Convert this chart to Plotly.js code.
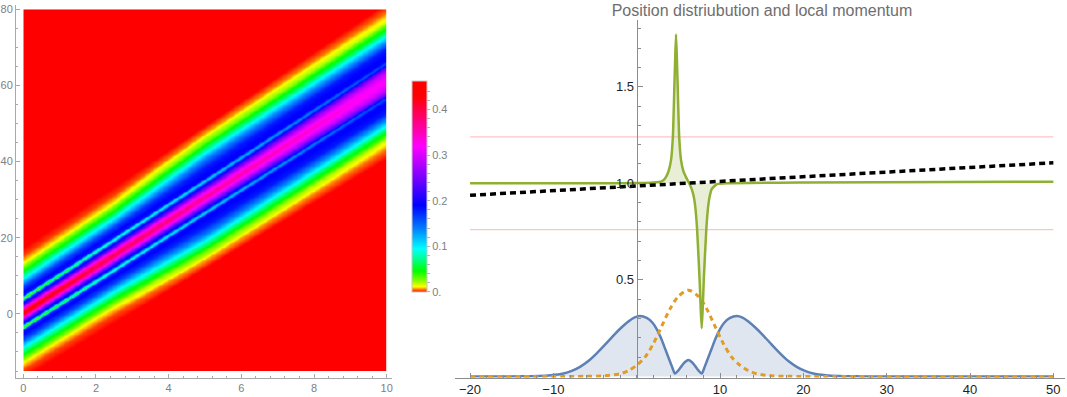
<!DOCTYPE html>
<html><head><meta charset="utf-8">
<script src="https://cdn.plot.ly/plotly-3.0.1.min.js"></script>
<style>html,body{margin:0;padding:0;background:#fff}#chart{width:1067px;height:397px}</style>
</head><body><div id="chart"></div>
<script>
// ---------- Left panel: density of the moving packet ----------
const heatTRange = [0, 10];
const heatYRange = [-15, 80];
const bandTimes   = [0, 2.5, 5, 10];
const bandCenters = [0.4, 15.6, 30.8, 61.3];
const bandScales  = [1.0, 1.05, 1.1, 1.2];
const profileU   = [-17, -15, -13, -11, -9, -7, -5.5, -4.5, -4.05, -3.8, -3.55, -3.1, -2, -1, 0, 1, 2, 3.1, 3.55, 3.8, 4.05, 4.5, 5.5, 7, 9, 11, 13, 15, 17];
const profileT0  = [0, 0.003, 0.012, 0.046, 0.095, 0.16, 0.19, 0.18, 0.06, 0.012, 0.06, 0.16, 0.24, 0.36, 0.45, 0.36, 0.24, 0.16, 0.06, 0.012, 0.06, 0.18, 0.19, 0.16, 0.095, 0.046, 0.012, 0.003, 0];
const profileT25 = [0, 0.003, 0.012, 0.045, 0.1, 0.165, 0.19, 0.18, 0.11, 0.075, 0.11, 0.17, 0.24, 0.34, 0.40, 0.34, 0.24, 0.17, 0.11, 0.075, 0.11, 0.18, 0.19, 0.165, 0.1, 0.045, 0.012, 0.003, 0];
const profileT5  = [0, 0.008, 0.03, 0.08, 0.14, 0.18, 0.19, 0.19, 0.13, 0.10, 0.13, 0.18, 0.25, 0.32, 0.37, 0.32, 0.25, 0.18, 0.13, 0.10, 0.13, 0.19, 0.19, 0.18, 0.14, 0.08, 0.03, 0.008, 0];
const profileT10 = [0, 0.005, 0.015, 0.055, 0.12, 0.18, 0.19, 0.19, 0.17, 0.16, 0.18, 0.23, 0.29, 0.31, 0.32, 0.31, 0.29, 0.23, 0.18, 0.16, 0.17, 0.19, 0.19, 0.18, 0.12, 0.055, 0.015, 0.005, 0];
const colorbarTicks = [0, 0.1, 0.2, 0.3, 0.4];
const colorbarTickText = ['0.', '0.1', '0.2', '0.3', '0.4'];
const heatZMax = 0.463;

// ---------- Right panel ----------
const blueX = [-20, -16.8, -13.8, -11.8, -10.3, -8.8, -7.8, -6.8, -5.8, -4.8, -3.8, -2.8, -1.8, -1.0, -0.3, 0.4, 1.2, 1.9, 2.4, 2.9, 3.4, 3.8, 4.2, 4.6, 5.0, 5.4, 5.8, 6.2,
               6.6, 7.0, 7.4, 7.8, 8.2, 8.6, 9.0, 9.5, 10.0, 10.5, 11.2, 12.0, 12.7, 13.4, 14.2, 15.2, 16.2, 17.2, 18.2, 19.2, 20.2, 21.2, 22.7, 24.2, 26.2, 29.2, 35, 50];
const blueY = [0, 0.0002, 0.001, 0.003, 0.007, 0.016, 0.029, 0.05, 0.08, 0.12, 0.165, 0.212, 0.255, 0.285, 0.305, 0.313, 0.303, 0.278, 0.245, 0.2, 0.145, 0.1, 0.055, 0.015, 0.032, 0.055, 0.075, 0.085,
               0.075, 0.055, 0.032, 0.015, 0.055, 0.1, 0.145, 0.2, 0.245, 0.278, 0.303, 0.313, 0.305, 0.285, 0.255, 0.212, 0.165, 0.12, 0.08, 0.05, 0.029, 0.016, 0.007, 0.003, 0.001, 0.0002, 0, 0];
const orangeX = [-20, -8, -6, -4, -2, -1, 0, 1, 2, 3, 4, 5, 6.2, 7.4, 8.4, 9.4, 10.4, 11.4, 12.4, 13.4, 14.4, 16.4, 18.4, 20.4, 50];
const orangeY = [0, 0, 0.001, 0.003, 0.014, 0.03, 0.058, 0.1, 0.17, 0.26, 0.35, 0.415, 0.447, 0.415, 0.35, 0.26, 0.17, 0.1, 0.058, 0.03, 0.014, 0.003, 0.001, 0, 0];
const greenX = [-20, -5, 0, 2, 3, 3.4, 3.8, 4.12, 4.34, 4.52, 4.62, 4.72, 4.82, 4.92, 5.1, 5.32, 5.62, 6.0, 6.3,
                6.6, 6.85, 7.05, 7.25, 7.55, 7.68, 7.8, 7.92, 8.05, 8.35, 8.55, 8.75, 9.0, 9.6, 11, 20, 50];
const greenY = [1.0, 1.0, 1.001, 1.004, 1.01, 1.025, 1.06, 1.12, 1.24, 1.5, 1.65, 1.77, 1.65, 1.5, 1.24, 1.12, 1.06, 1.025, 1.0,
                0.97, 0.93, 0.87, 0.76, 0.5, 0.35, 0.25, 0.35, 0.5, 0.76, 0.87, 0.93, 0.97, 0.995, 1.0, 1.004, 1.008];
const greenBaseLevel = 1.0;
const blackX = [-20, 50];
const blackY = [0.938, 1.106];
const refLevels = [0.76, 1.24];
const refX = [-20, 50];
const rightXTicks = [-20, -10, 10, 20, 30, 40, 50];
const rightXTickText = ['\u221220', '\u221210', '10', '20', '30', '40', '50'];
const rightYTicks = [0.5, 1.0, 1.5];
const rightYTickText = ['0.5', '1.0', '1.5'];

// ---------- build heatmap grid from the read profiles ----------
function interp1(xs, ys, x) {
  if (x <= xs[0]) return ys[0];
  if (x >= xs[xs.length - 1]) return ys[ys.length - 1];
  let k = 0;
  while (x > xs[k + 1]) k++;
  const f = (x - xs[k]) / (xs[k + 1] - xs[k]);
  return ys[k] + f * (ys[k + 1] - ys[k]);
}
const profiles = [profileT0, profileT25, profileT5, profileT10];
const NT = 220, NY = 420;
const tGrid = [], yGrid = [];
for (let i = 0; i <= NT; i++) tGrid.push(heatTRange[0] + (heatTRange[1] - heatTRange[0]) * i / NT);
for (let j = 0; j <= NY; j++) yGrid.push(heatYRange[0] + (heatYRange[1] - heatYRange[0]) * j / NY);
const z = yGrid.map(() => new Array(tGrid.length).fill(0));
tGrid.forEach((t, i) => {
  let k = 0;
  while (k < bandTimes.length - 2 && t > bandTimes[k + 1]) k++;
  const w = (t - bandTimes[k]) / (bandTimes[k + 1] - bandTimes[k]);
  const c = bandCenters[k] + w * (bandCenters[k + 1] - bandCenters[k]);
  const s = bandScales[k] + w * (bandScales[k + 1] - bandScales[k]);
  yGrid.forEach((y, j) => {
    const u = (y - c) / s;
    const a = interp1(profileU, profiles[k], u);
    const b = interp1(profileU, profiles[k + 1], u);
    z[j][i] = a + w * (b - a);
  });
});

// ---------- layout helpers (pixel -> paper) ----------
const W = 1067, H = 397;
const fx = px => px / W;
const fy = py => 1 - py / H;
const FONT = 'Liberation Sans, Arial, sans-serif';

const hL = 23.3, hR = 386.7, hT = 9.3, hB = 371;
const pxPerT = (hR - hL) / (heatTRange[1] - heatTRange[0]);
const pxPerY = (hB - hT) / (heatYRange[1] - heatYRange[0]);
const frameL = 16, frameR = 392, frameT = 5, frameB = 378;

const rL = 455, rR = 1065, rT = 20, rB = 377.5;
const rx0 = 636.7, rPxPerX = 8.333;
const ry0 = 376.5, rPxPerY = 193.2;

const colorscale = [[0,'#ff0000'],[0.012,'#ff7a00'],[0.025,'#ffff00'],[0.055,'#80ff00'],[0.1,'#00ff00'],
  [0.15,'#00ff80'],[0.205,'#00ffff'],[0.3,'#0080ff'],[0.41,'#0000ff'],[0.55,'#8000ff'],[0.69,'#ff00ff'],
  [0.81,'#ff0080'],[0.93,'#ff0000'],[1,'#ff0000']];

const cbMinor = [];
for (let v = 0; v <= 0.46; v += 0.02) cbMinor.push(+v.toFixed(2));
const cbText = cbMinor.map(v => { const i = colorbarTicks.findIndex(m => Math.abs(m - v) < 1e-6); return i >= 0 ? colorbarTickText[i] : ''; });

const traces = [];
traces.push({
  type: 'heatmap', x: tGrid, y: yGrid, z: z, xaxis: 'x', yaxis: 'y',
  zmin: 0, zmax: heatZMax, zsmooth: 'best', colorscale: colorscale, hoverinfo: 'skip',
  colorbar: {
    x: fx(412), xanchor: 'left', xpad: 0, y: fy(186.4), yanchor: 'middle', ypad: 0,
    len: 211, lenmode: 'pixels', thickness: 15, thicknessmode: 'pixels',
    outlinewidth: 1, outlinecolor: '#c8c8c8',
    tickmode: 'array', tickvals: cbMinor, ticktext: cbText,
    ticks: 'outside', ticklen: 3, tickcolor: '#b0b0b0', tickwidth: 1,
    tickfont: {family: FONT, size: 11, color: '#808080'}
  }
});
traces.push({type: 'scatter', x: [], y: [], xaxis: 'x2', yaxis: 'y2', hoverinfo: 'skip'});

refLevels.forEach(l => traces.push({
  type: 'scatter', mode: 'lines', x: refX, y: [l, l], xaxis: 'x3', yaxis: 'y3',
  line: {color: '#ffc4c4', width: 1.3}, hoverinfo: 'skip'
}));
traces.push({
  type: 'scatter', mode: 'lines', x: blueX, y: blueY, xaxis: 'x3', yaxis: 'y3',
  fill: 'tozeroy', fillcolor: 'rgba(94,129,181,0.2)',
  line: {color: '#5E81B5', width: 2.5, shape: 'spline', smoothing: 0.7}, hoverinfo: 'skip'
});
traces.push({
  type: 'scatter', mode: 'lines', x: orangeX, y: orangeY, xaxis: 'x3', yaxis: 'y3',
  line: {color: '#E09C24', width: 3, dash: '5px,4px', shape: 'spline', smoothing: 0.8}, hoverinfo: 'skip'
});
traces.push({
  type: 'scatter', mode: 'lines', x: greenX, y: greenX.map(() => greenBaseLevel), xaxis: 'x3', yaxis: 'y3',
  line: {width: 0, color: 'rgba(0,0,0,0)'}, hoverinfo: 'skip'
});
traces.push({
  type: 'scatter', mode: 'lines', x: greenX, y: greenY, xaxis: 'x3', yaxis: 'y3',
  fill: 'tonexty', fillcolor: 'rgba(143,176,50,0.2)',
  line: {color: '#8FB032', width: 2.5, shape: 'spline', smoothing: 0.5}, hoverinfo: 'skip'
});
traces.push({
  type: 'scatter', mode: 'lines', x: blackX, y: blackY, xaxis: 'x3', yaxis: 'y3',
  line: {color: '#000000', width: 3.5, dash: '6px,4px'}, hoverinfo: 'skip'
});

const frameColor = '#a8a8a8';
const layout = {
  width: W, height: H, margin: {l: 0, r: 0, t: 0, b: 0},
  paper_bgcolor: '#ffffff', plot_bgcolor: 'rgba(0,0,0,0)', showlegend: false,
  font: {family: FONT},
  title: {text: 'Position distriubution and local momentum', x: fx(762), xanchor: 'center',
          y: fy(10), yanchor: 'middle', font: {family: FONT, size: 16, color: '#6e6e6e'}},
  xaxis: {domain: [fx(hL), fx(hR)], range: heatTRange, visible: false, anchor: 'y', fixedrange: true},
  yaxis: {domain: [fy(hB), fy(hT)], range: heatYRange, visible: false, anchor: 'x', fixedrange: true},
  xaxis2: {domain: [fx(frameL), fx(frameR)], anchor: 'y2',
    range: [heatTRange[0] + (frameL - hL) / pxPerT, heatTRange[0] + (frameR - hL) / pxPerT],
    showline: true, linecolor: frameColor, linewidth: 1, showgrid: false, zeroline: false,
    tickmode: 'linear', tick0: 0, dtick: 2, ticks: 'inside', ticklen: 4, tickcolor: frameColor,
    minor: {tickmode: 'linear', tick0: 0, dtick: 0.4, ticks: 'inside', ticklen: 2, tickcolor: frameColor, showgrid: false},
    tickfont: {family: FONT, size: 11, color: '#808080'}},
  yaxis2: {domain: [fy(frameB), fy(frameT)], anchor: 'x2',
    range: [heatYRange[0] - (frameB - hB) / pxPerY, heatYRange[1] + (hT - frameT) / pxPerY],
    showline: true, linecolor: frameColor, linewidth: 1, showgrid: false, zeroline: false,
    tickmode: 'linear', tick0: 0, dtick: 20, ticks: 'inside', ticklen: 4, tickcolor: frameColor,
    minor: {tickmode: 'linear', tick0: 0, dtick: 5, ticks: 'inside', ticklen: 2, tickcolor: frameColor, showgrid: false},
    tickfont: {family: FONT, size: 11, color: '#808080'}},
  xaxis3: {domain: [fx(rL), fx(rR)], anchor: 'y3',
    range: [(rL - rx0) / rPxPerX, (rR - rx0) / rPxPerX],
    showline: true, linecolor: '#8c8c8c', linewidth: 1, showgrid: false, zeroline: false,
    tickmode: 'array', tickvals: rightXTicks, ticktext: rightXTickText,
    ticks: 'inside', ticklen: 5, tickcolor: '#8c8c8c',
    minor: {tickmode: 'linear', tick0: 0, dtick: 2, ticks: 'inside', ticklen: 3, tickcolor: '#8c8c8c', showgrid: false},
    tickfont: {family: FONT, size: 13, color: '#1e1e1e'}},
  yaxis3: {domain: [fy(rB), fy(rT)], anchor: 'free', position: fx(rx0), side: 'left',
    range: [(ry0 - rB) / rPxPerY, (ry0 - rT) / rPxPerY],
    showline: true, linecolor: '#8c8c8c', linewidth: 1, showgrid: false, zeroline: false,
    tickmode: 'array', tickvals: rightYTicks, ticktext: rightYTickText,
    ticks: 'inside', ticklen: 5, tickcolor: '#8c8c8c',
    minor: {tickmode: 'linear', tick0: 0, dtick: 0.1, ticks: 'inside', ticklen: 3, tickcolor: '#8c8c8c', showgrid: false},
    tickfont: {family: FONT, size: 13, color: '#1e1e1e'}}
};

Plotly.newPlot('chart', traces, layout, {staticPlot: true, displayModeBar: false});
</script></body></html>
